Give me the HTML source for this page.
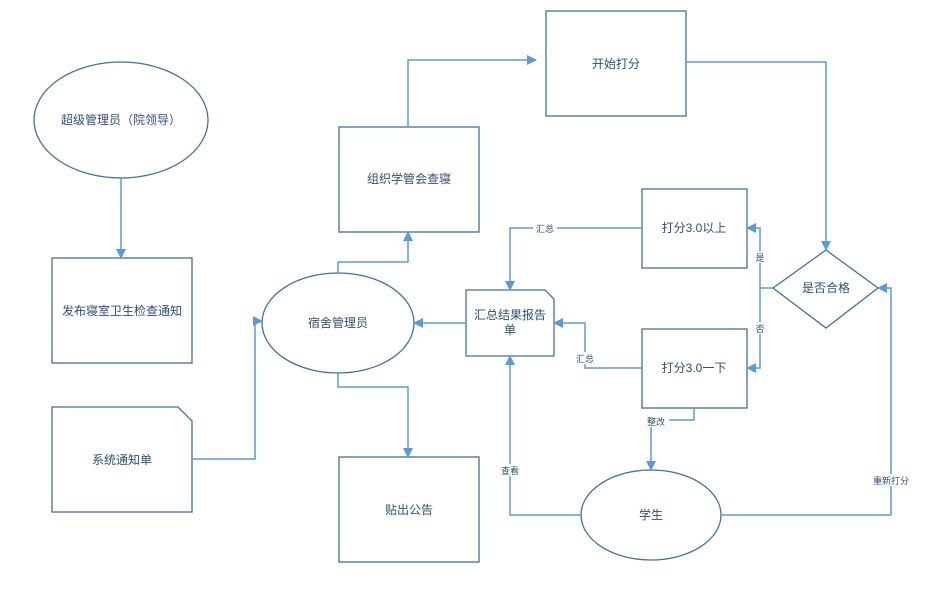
<!DOCTYPE html>
<html><head><meta charset="utf-8"><style>
html,body{margin:0;padding:0;background:#fff;}
text{font-family:"Liberation Sans","Noto Sans CJK SC",sans-serif;fill:#2f4f75;}
</style></head><body>
<svg width="939" height="598" viewBox="0 0 939 598" xmlns="http://www.w3.org/2000/svg">
<defs><marker id="a" markerWidth="10" markerHeight="10" refX="9" refY="5" orient="auto" markerUnits="userSpaceOnUse"><path d="M0,0 L10,5 L0,10 Z" fill="#5b9bd5"/></marker></defs>
<g fill="#fff" stroke="#41719c" stroke-width="1.3">
<ellipse cx="121" cy="120" rx="87" ry="58"/>
<rect x="52" y="258" width="140" height="105"/>
<path d="M52,407 H178 L192,421 V512 H52 Z"/>
<ellipse cx="338" cy="323" rx="76" ry="50"/>
<rect x="339" y="127" width="140" height="105"/>
<rect x="339" y="457" width="140" height="105"/>
<rect x="546" y="11" width="140" height="105"/>
<rect x="642" y="189" width="105" height="79"/>
<rect x="642" y="329" width="105" height="79"/>
<path d="M466,290 H545 L554,299 V356 H466 Z"/>
<path d="M826,250 L878,288 L826,328 L773,288 Z"/>
<ellipse cx="651" cy="515" rx="70" ry="45"/>
</g>
<g fill="none" stroke="#5b9bd5" stroke-width="1.5">
<path d="M121,178 V258" marker-end="url(#a)"/>
<path d="M192,459 H255 V321 H262" marker-end="url(#a)"/>
<path d="M338,273 V262 H408 V232" marker-end="url(#a)"/>
<path d="M408,127 V60 H536" marker-end="url(#a)"/>
<path d="M686,62 H826 V250" marker-end="url(#a)"/>
<path d="M773,288 H760 V228 H747" marker-end="url(#a)"/>
<path d="M760,288 V368 H747" marker-end="url(#a)"/>
<path d="M642,228 H510 V290" marker-end="url(#a)"/>
<path d="M642,368 H585 V323 H554" marker-end="url(#a)"/>
<path d="M466,323 H414" marker-end="url(#a)"/>
<path d="M338,373 V387 H408 V457" marker-end="url(#a)"/>
<path d="M694,408 V420 H651 V470" marker-end="url(#a)"/>
<path d="M581,515 H510 V356" marker-end="url(#a)"/>
<path d="M721,515 H891 V288 H878" marker-end="url(#a)"/>
</g>
<g font-size="9" text-anchor="middle">
<rect x="533" y="222" width="24" height="12" fill="#fff"/><text x="545" y="232">汇总</text>
<rect x="573" y="352" width="24" height="12" fill="#fff"/><text x="585" y="362">汇总</text>
<rect x="753" y="251" width="14" height="12" fill="#fff"/><text x="760" y="261">是</text>
<rect x="753" y="322" width="14" height="12" fill="#fff"/><text x="760" y="332">否</text>
<rect x="643" y="415" width="26" height="12" fill="#fff"/><text x="656" y="425">整改</text>
<rect x="498" y="464" width="24" height="12" fill="#fff"/><text x="510" y="474">查看</text>
<rect x="869" y="474" width="44" height="12" fill="#fff"/><text x="891" y="484">重新打分</text>
</g>
<g font-size="12" text-anchor="middle">
<text x="121" y="124">超级管理员（院领导）</text>
<text x="122" y="315">发布寝室卫生检查通知</text>
<text x="122" y="464">系统通知单</text>
<text x="338" y="327">宿舍管理员</text>
<text x="409" y="183">组织学管会查寝</text>
<text x="409" y="514">贴出公告</text>
<text x="616" y="68">开始打分</text>
<text x="694" y="232">打分3.0以上</text>
<text x="694" y="372">打分3.0一下</text>
<text x="510" y="319">汇总结果报告</text>
<text x="510" y="334">单</text>
<text x="826" y="292">是否合格</text>
<text x="651" y="519">学生</text>
</g>
</svg>
</body></html>
